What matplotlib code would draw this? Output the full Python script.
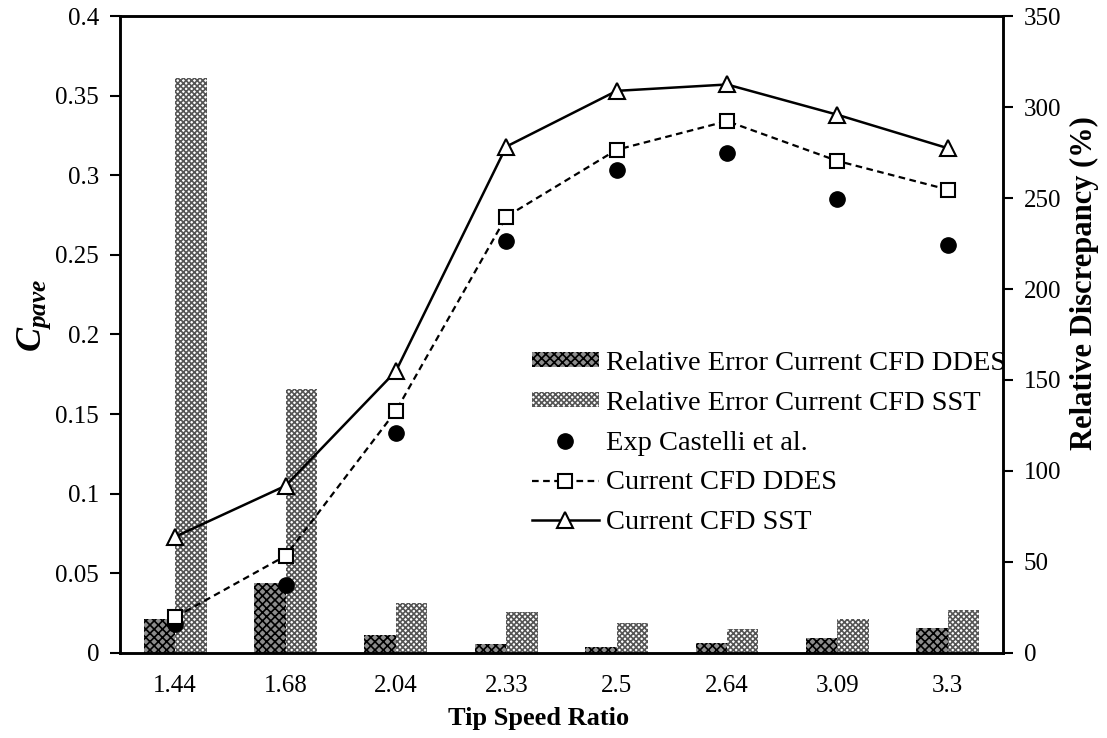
import numpy as np
import matplotlib
matplotlib.use("Agg")
import matplotlib.pyplot as plt

plt.rcParams["font.family"] = ["Liberation Serif", "DejaVu Serif"]
plt.rcParams["mathtext.fontset"] = "custom"
plt.rcParams["mathtext.it"] = "Liberation Serif:italic:bold"
plt.rcParams["mathtext.rm"] = "Liberation Serif:bold"
plt.rcParams["hatch.linewidth"] = 1.2

# tip speed ratios (categorical) and power coefficients
tsr = ["1.44", "1.68", "2.04", "2.33", "2.5", "2.64", "3.09", "3.3"]
cp_exp = [0.018, 0.043, 0.138, 0.259, 0.303, 0.314, 0.285, 0.256]
cp_ddes = [0.0225, 0.061, 0.152, 0.274, 0.316, 0.334, 0.309, 0.291]
cp_sst = [0.073, 0.105, 0.177, 0.318, 0.353, 0.357, 0.338, 0.317]
# relative discrepancy against experiment (%)
err_ddes = [18.6, 38.3, 9.8, 5.2, 3.5, 5.7, 8.0, 13.5]
err_sst = [316, 145, 27.5, 22.4, 16.3, 13.3, 18.5, 23.7]

FS = 18
x = np.arange(len(tsr))
w = 0.285

fig = plt.figure(figsize=(11.07, 7.38), dpi=100)
ax = fig.add_axes([0.1084, 0.1152, 0.7976, 0.8631])
ax2 = ax.twinx()
ax.set_zorder(ax2.get_zorder() + 1)
ax.patch.set_visible(False)

b1 = ax2.bar(x - w / 2, err_ddes, w, color="#8c8c8c", edgecolor="black",
             hatch="xxxx", linewidth=0, label="Relative Error Current CFD DDES")
b2 = ax2.bar(x + w / 2, err_sst, w, color="white", edgecolor="#555555",
             hatch="xxxxxx", linewidth=0, label="Relative Error Current CFD SST")

l_exp, = ax.plot(x, cp_exp, ls="none", marker="o", ms=11, color="black",
                 label="Exp Castelli et al.")
l_ddes, = ax.plot(x, cp_ddes, ls=(0, (3, 2)), lw=1.6, color="black", marker="s",
                  ms=10, mfc="white", mec="black", mew=1.5,
                  label="Current CFD DDES")
l_sst, = ax.plot(x, cp_sst, ls="-", lw=1.8, color="black", marker="^", ms=11,
                 mfc="white", mec="black", mew=1.5, label="Current CFD SST")

ax.set_xlim(-0.5, len(tsr) - 0.5)
ax.set_ylim(0, 0.4)
ax2.set_ylim(0, 350)
ax.set_xticks(x)
ax.set_xticklabels(tsr)
ax.set_yticks(np.arange(0, 0.401, 0.05))
ax.set_yticklabels(["0", "0.05", "0.1", "0.15", "0.2", "0.25", "0.3", "0.35", "0.4"])
ax2.set_yticks(np.arange(0, 351, 50))

ax.tick_params(axis="x", length=0, labelsize=FS, pad=16)
ax.tick_params(axis="y", direction="out", length=7, width=1.5, labelsize=FS, pad=8)
ax2.tick_params(axis="y", direction="out", length=7, width=1.5, labelsize=FS, pad=8)
for a in (ax, ax2):
    for s in a.spines.values():
        s.set_linewidth(1.8)

ax.set_xlabel("Tip Speed Ratio", fontsize=19, fontweight="bold")
ax.xaxis.set_label_coords(0.4745, -0.085)
ax.set_ylabel(r"$C_{pave}$", fontsize=26)
ax.yaxis.set_label_coords(-0.076, 0.53)
ax2.set_ylabel("Relative Discrepancy (%)", fontsize=22, fontweight="bold")
ax2.yaxis.set_label_coords(1.076, 0.58)

ax.legend(handles=[b1, b2, l_exp, l_ddes, l_sst], loc="upper left",
          bbox_to_anchor=(0.4534, 0.492), frameon=False, fontsize=20.5,
          handlelength=2.35, handleheight=0.45, handletextpad=0.25,
          labelspacing=0.52, numpoints=1, borderaxespad=0)

fig.savefig("out.png", dpi=100)
